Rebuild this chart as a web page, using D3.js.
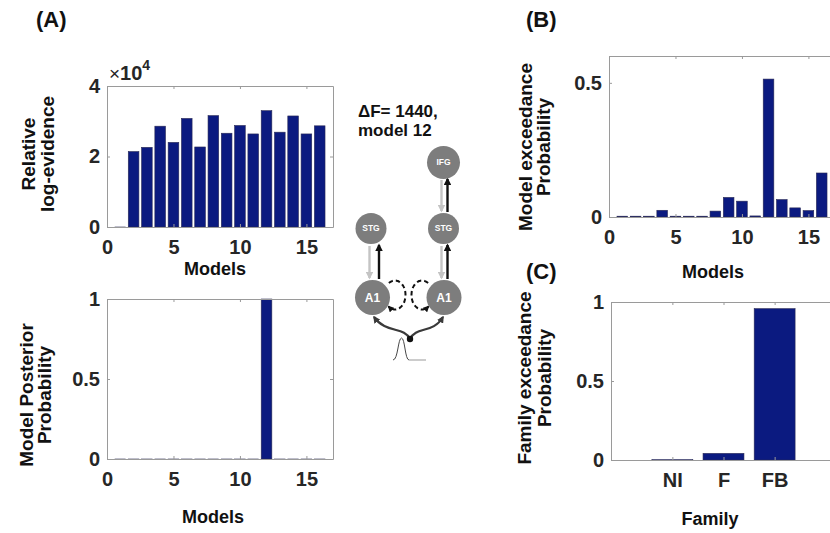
<!DOCTYPE html>
<html>
<head>
<meta charset="utf-8">
<script src="https://cdn.jsdelivr.net/npm/d3@7"></script>
<style>
  body { margin: 0; background: #fff; }
  svg { display: block; font-family: "Liberation Sans", Arial, sans-serif; font-weight: bold; }
  .tick line, .domain { stroke: #9a9a9a; }
</style>
</head>
<body>
<svg id="fig" width="830" height="533"></svg>
<script>
// chart data
const models       = [1, 2, 3, 4, 5, 6, 7, 8, 9, 10, 11, 12, 13, 14, 15, 16];
const logEvidence  = [0, 2.14, 2.26, 2.86, 2.40, 3.08, 2.27, 3.16, 2.66, 2.88, 2.64, 3.30, 2.69, 3.15, 2.64, 2.87]; // x10^4
const posterior    = [0, 0, 0, 0, 0, 0, 0, 0, 0, 0, 0, 1, 0, 0, 0, 0];
const exceedance   = [0.003, 0.003, 0.003, 0.025, 0.003, 0.003, 0.003, 0.022, 0.073, 0.059, 0.004, 0.514, 0.065, 0.034, 0.024, 0.164];
const families     = ["NI", "F", "FB"];
const familyExceed = [0.002, 0.042, 0.958];

const svg      = d3.select("#fig"),
      barColor = "#0b1a80",
      barEdge  = "#2a2a55";

// one MATLAB-style boxed bar chart
function barPanel(cfg) {
  let x = d3.scaleLinear().domain(cfg.xDomain).range([cfg.left, cfg.right]),
      y = d3.scaleLinear().domain(cfg.yDomain).range([cfg.bottom, cfg.top]),
      g = svg.append("g");

  // bars first, axes drawn over them
  g.selectAll("rect")
    .data(cfg.values.map((v, i) => ({k: cfg.keys[i], v: v})))
    .enter().append("rect")
    .attr("x", d => x(d.k - cfg.barW / 2))
    .attr("width", d => x(d.k + cfg.barW / 2) - x(d.k - cfg.barW / 2))
    .attr("y", d => y(d.v))
    .attr("height", d => Math.max(y(0) - y(d.v), 0.6))
    .attr("fill", barColor)
    .attr("stroke", barEdge)
    .attr("stroke-width", 0.6);

  g.append("g")
    .attr("transform", "translate(0," + cfg.bottom + ")")
    .call(d3.axisBottom(x).tickValues(cfg.xTicks).tickFormat(cfg.xFormat || d3.format("d"))
      .tickSizeInner(-3).tickSizeOuter(0).tickPadding(13));

  g.append("g")
    .attr("transform", "translate(0," + cfg.top + ")")
    .call(d3.axisTop(x).tickValues(cfg.xTicks).tickFormat("").tickSizeInner(-3).tickSizeOuter(0));

  g.append("g")
    .attr("transform", "translate(" + cfg.left + ",0)")
    .call(d3.axisLeft(y).tickValues(cfg.yTicks).tickFormat(cfg.yFormat || d3.format("d"))
      .tickSizeInner(-3).tickSizeOuter(0).tickPadding(7));

  g.append("g")
    .attr("transform", "translate(" + cfg.right + ",0)")
    .call(d3.axisRight(y).tickValues(cfg.yTicks).tickFormat("").tickSizeInner(-3).tickSizeOuter(0));

  g.selectAll(".tick text")
    .attr("fill", "#262626")
    .style("font-size", "20px")
    .style("font-weight", "bold")
    .style("font-family", "'Liberation Sans', Arial, sans-serif");

  // axis labels
  g.append("text")
    .attr("x", cfg.xLabelPos[0]).attr("y", cfg.xLabelPos[1])
    .attr("text-anchor", "middle").attr("font-size", 18).attr("fill", "#111")
    .text(cfg.xLabel);

  cfg.yLabel.forEach((line, i) => {
    g.append("text")
      .attr("transform", "translate(" + cfg.yLabelX[i] + "," + cfg.yLabelY + ") rotate(-90)")
      .attr("text-anchor", "middle").attr("font-size", 19).attr("fill", "#111")
      .text(line);
  });

  return {x: x, y: y};
}

// (A) top: relative log-evidence
barPanel({
  left: 107, right: 333, top: 86, bottom: 227,
  xDomain: [0, 17], yDomain: [0, 4],
  xTicks: [0, 5, 10, 15], yTicks: [0, 2, 4],
  keys: models, values: logEvidence, barW: 0.8,
  xLabel: "Models", xLabelPos: [215, 275],
  yLabel: ["Relative", "log-evidence"], yLabelX: [35, 54], yLabelY: 154
});

// x10^4 exponent
let expo = svg.append("text").attr("x", 109).attr("y", 80).attr("fill", "#262626");
expo.append("tspan").attr("font-size", 19).attr("font-weight", "normal").text("\u00d7");
expo.append("tspan").attr("font-size", 20).text("10");
expo.append("tspan").attr("font-size", 14).attr("dy", -10).text("4");

// (A) bottom: posterior probability
barPanel({
  left: 107, right: 333, top: 299, bottom: 459,
  xDomain: [0, 17], yDomain: [0, 1],
  xTicks: [0, 5, 10, 15], yTicks: [0, 0.5, 1], yFormat: d3.format("~g"),
  keys: models, values: posterior, barW: 0.8,
  xLabel: "Models", xLabelPos: [213, 523],
  yLabel: ["Model Posterior", "Probability"], yLabelX: [33, 51], yLabelY: 395
});

// (B) model exceedance probability
barPanel({
  left: 609, right: 835, top: 56, bottom: 217,
  xDomain: [0, 17], yDomain: [0, 0.6],
  xTicks: [0, 5, 10, 15], yTicks: [0, 0.5], yFormat: d3.format("~g"),
  keys: models, values: exceedance, barW: 0.8,
  xLabel: "Models", xLabelPos: [713, 278],
  yLabel: ["Model exceedance", "Probability"], yLabelX: [532, 550], yLabelY: 147
});

// (C) family exceedance probability
barPanel({
  left: 611, right: 836, top: 302, bottom: 460,
  xDomain: [-0.2, 4.2], yDomain: [0, 1],
  xTicks: [1, 2, 3], xFormat: d => families[d - 1],
  yTicks: [0, 0.5, 1], yFormat: d3.format("~g"),
  keys: [1, 2, 3], values: familyExceed, barW: 0.8,
  xLabel: "Family", xLabelPos: [710, 525],
  yLabel: ["Family exceedance", "Probability"], yLabelX: [531, 551], yLabelY: 378
});

// panel letters
[["(A)", 36, 27], ["(B)", 526, 27], ["(C)", 526, 279]].forEach(p => {
  svg.append("text").attr("x", p[1]).attr("y", p[2]).attr("font-size", 22).attr("fill", "#111").text(p[0]);
});

// ---- network diagram (model 12) ----
let dg   = svg.append("g"),
    defs = svg.append("defs");

function marker(id, color) {
  defs.append("marker")
    .attr("id", id).attr("viewBox", "0 0 10 10").attr("refX", 8).attr("refY", 5)
    .attr("markerWidth", 3.2).attr("markerHeight", 3.2).attr("orient", "auto")
    .append("path").attr("d", "M0,0 L10,5 L0,10 z").attr("fill", color);
}
marker("ahBlack", "#111");
marker("ahGray", "#c4c4c4");
marker("ahDark", "#3a3a3a");

dg.append("text").attr("x", 358).attr("y", 117).attr("font-size", 17).attr("fill", "#111").text("\u0394F= 1440,");
dg.append("text").attr("x", 358).attr("y", 136).attr("font-size", 17).attr("fill", "#111").text("model 12");

const nodes = [
  {name: "IFG", cx: 443.5, cy: 162.5, r: 16.5, fs: 8.5},
  {name: "STG", cx: 371,   cy: 228.5, r: 15.5, fs: 8.5},
  {name: "STG", cx: 443.5, cy: 228.5, r: 15.5, fs: 8.5},
  {name: "A1",  cx: 372.5, cy: 297.5, r: 17.5, fs: 12},
  {name: "A1",  cx: 444,   cy: 297.5, r: 17.5, fs: 12}
];

// forward (black, up) and backward (gray, down) connections
const links = [
  {x: 369.5, y1: 246, y2: 278, color: "#c4c4c4", m: "ahGray"},
  {x: 379,   y1: 279, y2: 245, color: "#111",    m: "ahBlack"},
  {x: 441.5, y1: 246, y2: 278, color: "#c4c4c4", m: "ahGray"},
  {x: 447.5, y1: 279, y2: 245, color: "#111",    m: "ahBlack"},
  {x: 441.5, y1: 180, y2: 211, color: "#c4c4c4", m: "ahGray"},
  {x: 447.5, y1: 212, y2: 179, color: "#111",    m: "ahBlack"}
];

dg.selectAll(".link").data(links).enter().append("line")
  .attr("x1", d => d.x).attr("x2", d => d.x)
  .attr("y1", d => d.y1).attr("y2", d => d.y2)
  .attr("stroke", d => d.color).attr("stroke-width", 2.4)
  .attr("marker-end", d => "url(#" + d.m + ")");

// dashed self connections on A1 (elliptic loops)
function selfLoop(cx, cy, rx, ry, dir) {
  let a0 = -125 * Math.PI / 180, a1 = 128 * Math.PI / 180,
      pts = d3.range(0, 41).map(i => {
        let a = a0 + (a1 - a0) * i / 40;
        return [cx + dir * rx * Math.cos(a), cy + ry * Math.sin(a)];
      });
  dg.append("path")
    .attr("d", d3.line().curve(d3.curveCatmullRom)(pts))
    .attr("fill", "none").attr("stroke", "#111").attr("stroke-width", 2)
    .attr("stroke-dasharray", "4.5,3")
    .attr("marker-end", "url(#ahBlack)");
}
selfLoop(395, 295, 10.5, 14.5, 1);
selfLoop(422, 295, 10.5, 14.5, -1);

dg.selectAll("circle").data(nodes).enter().append("circle")
  .attr("cx", d => d.cx).attr("cy", d => d.cy).attr("r", d => d.r)
  .attr("fill", "#7d7d7d");

dg.selectAll(".nlabel").data(nodes).enter().append("text")
  .attr("x", d => d.cx).attr("y", d => d.cy).attr("dy", "0.35em")
  .attr("text-anchor", "middle").attr("font-size", d => d.fs).attr("fill", "#fff")
  .text(d => d.name);

// driving input
dg.append("path").attr("d", "M410,339 C404,326 386,334 374,317")
  .attr("fill", "none").attr("stroke", "#3a3a3a").attr("stroke-width", 2.2).attr("marker-end", "url(#ahDark)");
dg.append("path").attr("d", "M410,339 C416,326 433,334 443,317")
  .attr("fill", "none").attr("stroke", "#3a3a3a").attr("stroke-width", 2.2).attr("marker-end", "url(#ahDark)");
dg.append("circle").attr("cx", 410).attr("cy", 339).attr("r", 3.2).attr("fill", "#111");

// gaussian input bump
dg.append("path").attr("d", "M393,360 C398,360 398,338 401.5,338 C405,338 405,360 409,360")
  .attr("fill", "none").attr("stroke", "#333").attr("stroke-width", 0.9);
dg.append("line").attr("x1", 409).attr("x2", 426).attr("y1", 360).attr("y2", 360)
  .attr("stroke", "#999").attr("stroke-width", 1);
</script>
</body>
</html>
